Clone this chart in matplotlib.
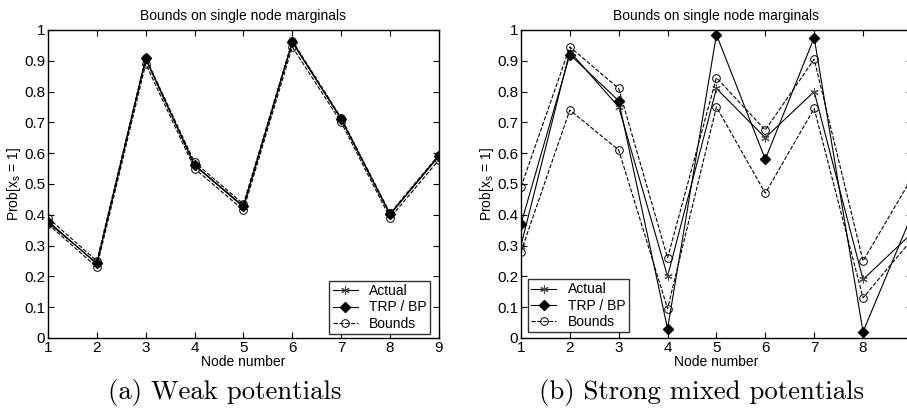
import matplotlib.pyplot as plt

plt.rcParams['font.family'] = ['Liberation Sans', 'DejaVu Sans']

# 节点编号与刻度
nodes = [1, 2, 3, 4, 5, 6, 7, 8, 9]
yticks = [0, 0.1, 0.2, 0.3, 0.4, 0.5, 0.6, 0.7, 0.8, 0.9, 1]
ytick_labels = ['0', '0.1', '0.2', '0.3', '0.4', '0.5', '0.6', '0.7', '0.8', '0.9', '1']
xtick_labels = ['1', '2', '3', '4', '5', '6', '7', '8', '9']

# (a) 弱势能
weak_actual = [0.38, 0.24, 0.905, 0.56, 0.425, 0.96, 0.71, 0.40, 0.59]
weak_trp = [0.375, 0.243, 0.908, 0.562, 0.428, 0.962, 0.712, 0.402, 0.592]
weak_upper = [0.39, 0.25, 0.91, 0.57, 0.435, 0.965, 0.715, 0.405, 0.595]
weak_lower = [0.37, 0.23, 0.89, 0.55, 0.415, 0.945, 0.70, 0.39, 0.578]

# (b) 强混合势能
strong_actual = [0.30, 0.93, 0.75, 0.20, 0.81, 0.65, 0.80, 0.19, 0.34]
strong_trp = [0.37, 0.92, 0.77, 0.03, 0.985, 0.58, 0.975, 0.02, 0.40]
strong_upper = [0.49, 0.945, 0.81, 0.26, 0.845, 0.675, 0.905, 0.25, 0.52]
strong_lower = [0.28, 0.74, 0.61, 0.095, 0.75, 0.47, 0.745, 0.13, 0.32]

fig = plt.figure(figsize=(9.07, 4.08), dpi=100)
ax1 = fig.add_axes((0.0529, 0.1716, 0.431, 0.755))
ax2 = fig.add_axes((0.5744, 0.1716, 0.431, 0.755))

asterisk = (6, 2, 0)


def draw(ax, actual, trp, upper, lower, anchor, caption, cap_x, xlabels):
    ax.plot(nodes, actual, '-', color='black', lw=0.8, marker=asterisk, ms=6,
            mec='0.3', mew=0.8, label='Actual')
    ax.plot(nodes, trp, '-', color='black', lw=0.8, marker='D', ms=5.5,
            mfc='black', mec='black', label='TRP / BP')
    ax.plot(nodes, upper, '--', color='black', lw=0.8, marker='o', ms=5.5,
            mfc='none', mec='black', mew=0.7, label='Bounds')
    ax.plot(nodes, lower, '--', color='black', lw=0.8, marker='o', ms=5.5,
            mfc='none', mec='black', mew=0.7)
    ax.set_xlim(1, 9)
    ax.set_ylim(0, 1)
    ax.set_xticks(nodes)
    ax.set_xticklabels(xlabels)
    ax.set_yticks(yticks)
    ax.set_yticklabels(ytick_labels)
    ax.tick_params(direction='in', top=True, right=True, length=4,
                   labelsize=11, pad=2)
    for s in ax.spines.values():
        s.set_linewidth(1.0)
    ax.set_title('Bounds on single node marginals', fontsize=10, pad=7)
    ax.set_xlabel('Node number', fontsize=10, labelpad=0)
    ax.set_ylabel('Prob[x$_\\mathregular{s}$ = 1]', fontsize=10, labelpad=1)
    leg = ax.legend(loc=anchor[0], bbox_to_anchor=anchor[1], fontsize=10,
                    frameon=True, fancybox=False, edgecolor='black',
                    handlelength=1.8, handletextpad=0.8, borderpad=0.25,
                    labelspacing=0.15, borderaxespad=0.0)
    leg.get_frame().set_linewidth(1.0)
    ax.text(cap_x, -0.177, caption, transform=ax.transAxes, ha='center',
            va='center', fontsize=19.3, family='cmr10')


draw(ax1, weak_actual, weak_trp, weak_upper, weak_lower,
     ('lower right', (0.977, 0.013)), '(a) Weak potentials', 0.451,
     xtick_labels)
draw(ax2, strong_actual, strong_trp, strong_upper, strong_lower,
     ('lower left', (0.018, 0.019)), '(b) Strong mixed potentials', 0.463,
     xtick_labels[:-1] + [''])

fig.savefig('out.png', dpi=100)
